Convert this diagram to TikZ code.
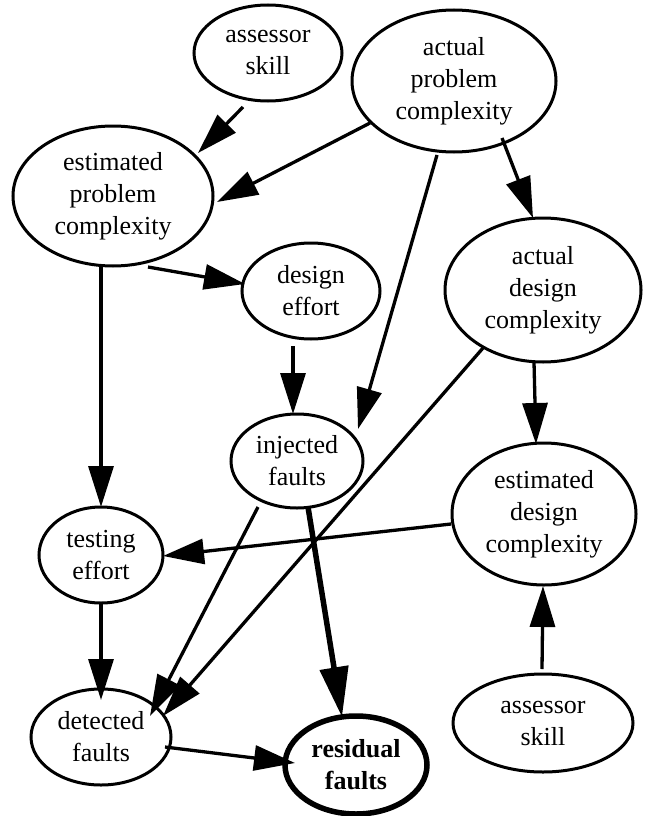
\documentclass[tikz,border=0pt]{standalone}
\usepackage{fontspec}
\setmainfont{Liberation Serif}
\usetikzlibrary{arrows.meta,shapes.geometric}
\begin{document}
\begin{tikzpicture}[x=1pt,y=-1pt,
  var/.style={ellipse, draw, line width=3pt, inner sep=0pt, align=center,
    font=\fontsize{26}{32}\selectfont},
  goal/.style={var, line width=5.5pt, font=\fontsize{26}{32}\selectfont\bfseries},
  edge/.style={line width=3.3pt, -{Triangle[length=41pt,width=25pt]}},
  thickedge/.style={line width=5.5pt, -{Triangle[length=50pt,width=28pt]}}
]
\useasboundingbox (0,0) rectangle (645,816);
\node[var, minimum width=148pt, minimum height=96pt] (as1) at (268,53) {assessor\\skill};
\node[var, minimum width=204pt, minimum height=142pt] (apc) at (454,81) {actual\\problem\\complexity};
\node[var, minimum width=200pt, minimum height=140pt] (epc) at (113,196) {estimated\\problem\\complexity};
\node[var, minimum width=138pt, minimum height=96pt] (de) at (311,291) {design\\effort};
\node[var, minimum width=196pt, minimum height=144pt] (adc) at (543,290) {actual\\design\\complexity};
\node[var, minimum width=132pt, minimum height=94pt] (inj) at (297,461) {injected\\faults};
\node[var, minimum width=184pt, minimum height=142pt] (edc) at (544,514) {estimated\\design\\complexity};
\node[var, minimum width=124pt, minimum height=96pt] (te) at (101,555) {testing\\effort};
\node[var, minimum width=140pt, minimum height=96pt] (det) at (101,737) {detected\\faults};
\node[goal, minimum width=142pt, minimum height=98pt] (res) at (356,765) {residual\\faults};
\node[var, minimum width=180pt, minimum height=98pt] (as2) at (543,723) {assessor\\skill};

\draw[edge] ([shift={(-25,54)}]as1.center) -- ([shift={(85,-43)}]epc.center);
\draw[edge] ([shift={(-84,42)}]apc.center) -- ([shift={(104,6)}]epc.center);
\draw[edge] ([shift={(-17,74)}]apc.center) -- ([shift={(61,-32)}]inj.center);
\draw[edge] ([shift={(48,57)}]apc.center) -- ([shift={(-10,-72)}]adc.center);
\draw[edge] ([shift={(35,71)}]epc.center) -- ([shift={(-66,-7)}]de.center);
\draw[edge] ([shift={(-12,71)}]epc.center) -- ([shift={(0,-48)}]te.center);
\draw[edge] ([shift={(-18,55)}]de.center) -- ([shift={(-4,-47)}]inj.center);
\draw[edge] ([shift={(-9,72)}]adc.center) -- ([shift={(-8,-70)}]edc.center);
\draw[edge] ([shift={(-60,58)}]adc.center) -- ([shift={(62,-21)}]det.center);
\draw[edge] ([shift={(-39,46)}]inj.center) -- ([shift={(49,-21)}]det.center);
\draw[thickedge] ([shift={(11,46)}]inj.center) -- ([shift={(-14,-48)}]res.center);
\draw[edge] ([shift={(-93,10)}]edc.center) -- ([shift={(62,1)}]te.center);
\draw[edge] ([shift={(0,49)}]te.center) -- ([shift={(0,-37)}]det.center);
\draw[edge] ([shift={(64,10)}]det.center) -- ([shift={(-61,-2)}]res.center);
\draw[edge] ([shift={(-1,-54)}]as2.center) -- ([shift={(-1,72)}]edc.center);
\end{tikzpicture}
\end{document}
